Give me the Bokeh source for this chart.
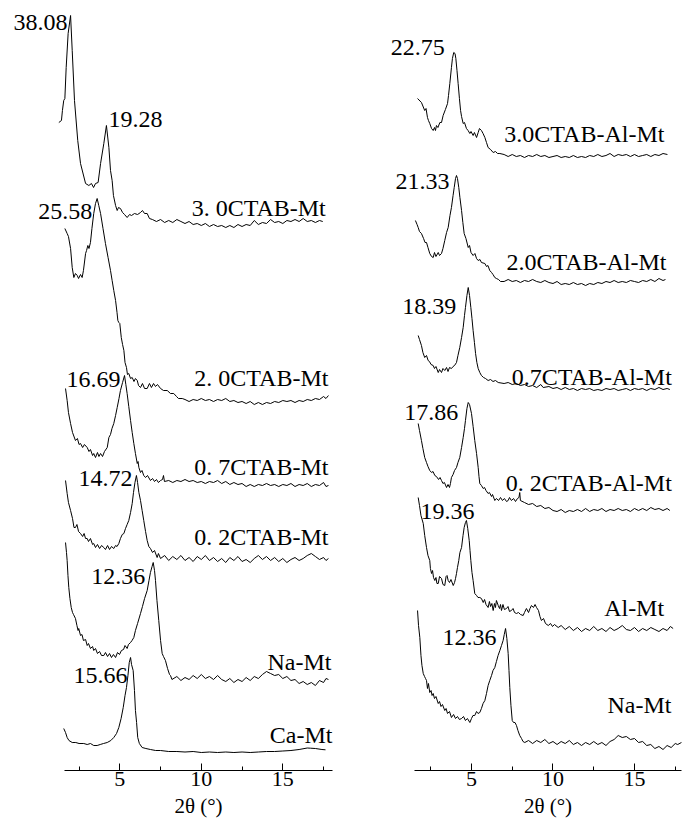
from bokeh.plotting import figure
from bokeh.layouts import row
from bokeh.models import FixedTicker, Range1d, ColumnDataSource
from bokeh.core.properties import value
from bokeh.embed import file_html
from bokeh.resources import INLINE

# ---------------- data: (2theta [deg], stacked intensity [a.u.]) ----------------
A_30CTAB_Mt = [(1.26,648),(1.42,650),(1.48,660),(1.56,670),(1.63,672),(1.71,703),(1.83,737),(1.98,755),(2.08,720),(2.22,670),
    (2.42,630),(2.59,607),(2.90,587),(3.10,585),(3.26,587),(3.39,583),(3.51,587),(3.67,588),(3.82,607),(4.02,627),(4.18,645),
    (4.33,623),(4.43,600),(4.53,590),(4.61,575),(4.74,565),(4.84,560),(4.92,563),(5.04,562),(5.17,558),(5.29,556),(5.45,553),
    (5.60,556),(5.72,555),(5.90,557),(6.09,556),(6.27,558),(6.39,560),(6.52,557),(6.68,557),(6.82,552),(7.00,551),
    (7.25,549),(7.5,551),(7.75,548),(8.0,550),(8.25,548),(8.5,551),(8.75,549),(9.0,547),(9.25,549),(9.5,546),(9.75,547),
    (10.0,545),(10.25,547),(10.5,544),(10.75,546),(11.0,544),(11.25,545),(11.5,543),(11.75,545),(12.0,543),(12.25,546),
    (12.5,544),(12.75,546),(13.0,545),(13.25,550),(13.5,546),(13.75,548),(14.0,547),(14.25,551),(14.5,548),(14.75,549),
    (15.0,547),(15.25,550),(15.5,549),(15.75,551),(16.0,549),(16.25,552),(16.5,549),(16.75,550),(17.0,548),(17.25,550),(17.45,549)]

B_20CTAB_Mt = [(1.63,542),(1.77,537),(1.85,534),(1.98,522),(2.08,503),(2.18,493),(2.28,497),(2.39,495),(2.47,492),(2.59,496),
    (2.69,493),(2.77,500),(2.90,517),(2.96,520),(3.04,525),(3.11,522),(3.20,528),(3.29,542),(3.40,557),(3.51,567),(3.61,572),
    (3.71,565),(3.82,557),(3.97,542),(4.12,527),(4.28,513),(4.43,500),(4.53,490),(4.63,480),(4.74,470),(4.83,458),(4.88,450),
    (4.94,448),(5.00,447),(5.09,433),(5.17,426),(5.25,420),(5.32,408),(5.41,403),(5.47,396),(5.55,397),(5.66,392),(5.76,393),
    (5.87,389),(5.96,392),(6.07,390),(6.15,385),(6.27,383),(6.39,387),(6.52,382),(6.68,382),(6.82,387),(6.94,383),(7.07,387),
    (7.19,384),(7.31,386),(7.50,382),(7.68,380),(7.91,380),(8.11,377),(8.31,377),(8.48,374),(8.60,372),(8.83,372),
    (9.0,371),(9.25,369),(9.5,371),(9.75,370),(10.0,372),(10.25,370),(10.5,371),(10.75,369),(11.0,371),(11.25,370),(11.5,372),
    (11.75,369),(12.0,370),(12.25,368),(12.5,369),(12.75,367),(13.0,369),(13.25,366),(13.5,368),(13.75,366),(14.0,368),
    (14.25,367),(14.5,369),(14.75,368),(15.0,370),(15.25,369),(15.5,370),(15.75,368),(16.0,370),(16.25,369),(16.5,371),
    (16.75,370),(17.0,372),(17.25,371),(17.5,374),(17.65,372),(17.8,375)]

C_07CTAB_Mt = [(1.67,382),(1.77,370),(1.85,358),(1.98,347),(2.10,338),(2.28,330),(2.40,332),(2.50,326),(2.59,327),(2.72,323),
    (2.83,326),(3.00,323),(3.11,319),(3.20,321),(3.33,315),(3.40,317),(3.51,313),(3.63,318),(3.72,314),(3.82,317),(3.94,314),
    (4.06,319),(4.23,323),(4.33,333),(4.43,336),(4.52,342),(4.63,347),(4.74,355),(4.84,363),(4.95,372),(5.04,380),(5.17,388),
    (5.29,395),(5.37,386),(5.45,377),(5.55,364),(5.66,350),(5.76,338),(5.86,327),(5.96,317),(6.07,307),(6.12,309),(6.17,303),
    (6.27,298),(6.36,300),(6.47,295),(6.58,293),(6.70,295),(6.88,290),(7.01,292),(7.13,289),(7.25,291),(7.37,288),(7.50,290),
    (7.62,291),(7.68,295),(7.74,289),
    (8.0,290),(8.25,288),(8.5,290),(8.75,289),(9.0,291),(9.25,289),(9.5,290),(9.75,288),(10.0,289),(10.25,287),(10.5,289),
    (10.75,288),(11.0,290),(11.25,287),(11.5,289),(11.75,286),(12.0,288),(12.25,286),(12.5,287),(12.75,284),(13.0,286),
    (13.25,284),(13.5,286),(13.75,285),(14.0,287),(14.25,285),(14.5,286),(14.75,284),(15.0,286),(15.25,285),(15.5,287),
    (15.75,284),(16.0,286),(16.25,285),(16.5,287),(16.75,284),(17.0,286),(17.25,285),(17.5,288),(17.65,284),(17.8,285)]

D_02CTAB_Mt = [(1.67,290),(1.77,277),(1.85,268),(1.98,260),(2.10,252),(2.19,243),(2.28,243),(2.37,246),(2.47,239),(2.59,237),
    (2.72,234),(2.81,237),(2.90,232),(3.00,232),(3.08,229),(3.20,232),(3.33,226),(3.40,227),(3.51,223),(3.63,226),(3.76,222),
    (3.88,225),(4.02,223),(4.12,221),(4.25,225),(4.37,221),(4.49,224),(4.63,222),(4.74,225),(4.83,224),(4.94,227),(5.04,232),
    (5.15,236),(5.25,237),(5.35,242),(5.45,246),(5.55,250),(5.66,258),(5.76,267),(5.84,278),(5.93,288),(6.02,295),(6.09,288),
    (6.17,278),(6.27,270),(6.37,260),(6.47,250),(6.58,239),(6.68,230),(6.78,224),(6.88,222),(7.01,218),(7.13,220),(7.29,213),
    (7.37,217),(7.50,212),
    (7.75,215),(8.0,210),(8.25,214),(8.5,211),(8.75,215),(9.0,210),(9.25,213),(9.5,209),(9.75,214),(10.0,211),(10.25,215),
    (10.5,210),(10.75,213),(11.0,209),(11.25,212),(11.5,208),(11.75,213),(12.0,210),(12.25,214),(12.5,209),(12.75,211),
    (13.0,208),(13.25,212),(13.5,215),(13.75,211),(14.0,214),(14.25,210),(14.5,213),(14.75,209),(15.0,212),(15.25,208),
    (15.5,211),(15.75,213),(16.0,210),(16.25,212),(16.5,215),(16.75,217),(17.0,214),(17.25,211),(17.5,213),(17.65,210),(17.8,212)]

E_Na_Mt_left = [(1.67,228),(1.73,218),(1.77,210),(1.82,195),(1.87,183),(1.94,172),(2.02,163),(2.10,158),(2.16,156),(2.28,152),
    (2.37,145),(2.44,140),(2.48,142),(2.59,135),(2.68,136),(2.77,130),(2.90,131),(3.00,125),(3.08,127),(3.20,122),(3.33,124),
    (3.40,120),(3.51,122),(3.63,117),(3.76,119),(3.88,115),(4.02,115),(4.12,118),(4.25,114),(4.37,117),(4.49,113),(4.61,116),
    (4.74,113),(4.86,118),(4.98,116),(5.10,120),(5.23,121),(5.32,125),(5.45,122),(5.53,126),(5.66,128),(5.75,130),(5.86,133),
    (5.96,140),(6.09,147),(6.27,157),(6.39,164),(6.52,172),(6.68,180),(6.79,190),(6.88,198),(6.98,204),(7.05,208),(7.13,200),
    (7.19,190),(7.28,170),(7.39,150),(7.50,130),(7.60,117),(7.68,114),(7.80,110),(7.93,102),(8.05,96),(8.11,95),(8.20,91),
    (8.5,94),(8.75,90),(9.0,93),(9.25,91),(9.5,95),(9.75,92),(10.0,96),(10.25,92),(10.5,94),(10.75,91),(11.0,95),(11.25,91),
    (11.5,89),(11.75,92),(12.0,88),(12.25,91),(12.5,89),(12.75,93),(13.0,90),(13.25,94),(13.5,92),(13.75,96),(14.0,99),
    (14.25,97),(14.5,95),(14.75,96),(15.0,92),(15.25,94),(15.5,90),(15.75,91),(16.0,87),(16.25,89),(16.5,86),(16.75,88),
    (17.0,85),(17.25,90),(17.5,88),(17.65,92),(17.8,91)]

F_Ca_Mt = [(1.56,42),(1.67,38),(1.77,33),(1.88,30),(2.08,28),(2.30,28),(2.50,27),(2.79,27),(3.00,26),(3.20,27),(3.40,25),
    (3.61,25),(3.80,26),(4.00,27),(4.23,28),(4.45,30),(4.63,33),(4.80,37),(4.94,43),(5.08,52),(5.21,63),(5.32,75),(5.41,83),
    (5.50,95),(5.58,108),(5.66,113),(5.72,106),(5.82,100),(5.90,80),(5.96,60),(6.03,48),(6.10,33),(6.20,27),(6.37,23),
    (6.60,22),(6.88,21),(7.20,20),(7.50,20),(8.0,19),(8.5,19),(9.0,18.5),(9.5,19),(10.0,18),(10.5,18.5),(11.0,18),(11.5,18.5),
    (12.0,18),(12.5,18.5),(13.0,18),(13.5,18.5),(14.0,19),(14.5,19),(15.0,19.5),(15.5,20),(16.0,21),(16.5,22.5),(16.7,22.3),
    (17.0,22),(17.4,21),(17.62,20.7)]

R1_30CTAB_Al_Mt = [(1.69,672),(1.93,668),(2.13,660),(2.21,662),(2.30,653),(2.36,650),(2.44,647),(2.55,642),(2.65,640),
    (2.73,643),(2.79,640),(2.85,645),(2.94,643),(3.06,648),(3.16,648),(3.26,655),(3.40,661),(3.53,667),(3.59,675),(3.67,687),
    (3.77,703),(3.83,712),(3.91,718),(3.99,717),(4.04,712),(4.11,700),(4.18,687),(4.26,672),(4.33,660),(4.39,654),(4.49,647),
    (4.57,648),(4.69,642),(4.79,640),(4.90,637),(4.97,639),(5.10,635),(5.18,638),(5.31,633),(5.41,638),(5.49,642),(5.61,640),
    (5.71,637),(5.82,633),(5.92,628),(6.02,623),(6.17,621),(6.33,618),(6.47,619),(6.60,617),(6.74,617),
    (7.0,616),(7.25,614),(7.5,616),(7.75,614),(8.0,615),(8.25,613),(8.5,615),(8.75,614),(9.0,616),(9.25,614),(9.5,615),
    (9.75,613),(10.0,614),(10.25,615),(10.5,613),(10.75,614),(11.0,613),(11.25,615),(11.5,613),(11.75,614),(12.0,613),
    (12.25,615),(12.5,614),(12.75,616),(13.0,614),(13.25,615),(13.5,617),(13.75,614),(14.0,616),(14.25,615),(14.5,616),
    (14.75,614),(15.0,616),(15.25,614),(15.5,615),(15.75,616),(16.0,614),(16.25,616),(16.5,615),(16.75,617),(17.02,616)]

R2_20CTAB_Al_Mt = [(1.56,550),(1.66,546),(1.73,543),(1.81,539),(1.93,537),(2.06,532),(2.15,528),(2.24,528),(2.33,523),
    (2.44,517),(2.55,514),(2.65,513),(2.73,518),(2.82,514),(2.96,518),(3.04,515),(3.16,517),(3.25,522),(3.36,530),(3.47,538),
    (3.57,543),(3.68,555),(3.77,563),(3.87,575),(3.94,583),(4.02,592),(4.08,595),(4.14,592),(4.22,583),(4.29,573),(4.39,560),
    (4.47,548),(4.55,537),(4.66,532),(4.80,523),(4.88,525),(4.97,518),(5.10,515),(5.21,517),(5.31,512),(5.41,510),(5.52,511),
    (5.61,508),(5.82,507),(5.92,504),(6.01,505),(6.12,500),(6.23,498),(6.32,496),(6.43,493),(6.53,492),(6.66,491),(6.78,489),
    (7.0,489),(7.25,491),(7.5,489),(7.75,490),(8.0,488),(8.25,490),(8.5,489),(8.75,491),(9.0,489),(9.25,488),(9.5,490),
    (9.75,488),(10.0,487),(10.25,489),(10.5,486),(10.75,487),(11.0,486),(11.25,488),(11.5,486),(11.75,487),(12.0,485),
    (12.25,487),(12.5,486),(12.75,488),(13.0,487),(13.25,489),(13.5,488),(13.75,490),(14.0,488),(14.25,489),(14.5,488),
    (14.75,490),(15.0,489),(15.25,488),(15.5,490),(15.75,489),(16.0,491),(16.25,489),(16.5,492),(16.75,490),(16.9,491)]

R3_07CTAB_Al_Mt = [(1.73,435),(1.81,431),(1.93,425),(2.02,418),(2.13,413),(2.24,415),(2.34,410),(2.42,409),(2.52,406),
    (2.65,405),(2.73,402),(2.82,404),(2.96,398),(3.04,401),(3.16,398),(3.25,402),(3.36,400),(3.47,403),(3.56,399),(3.65,403),
    (3.77,402),(3.87,404),(3.96,405),(4.08,408),(4.17,415),(4.28,423),(4.39,433),(4.49,443),(4.57,455),(4.63,463),(4.72,475),
    (4.80,483),(4.88,475),(4.96,463),(5.03,452),(5.10,440),(5.18,428),(5.25,417),(5.33,408),(5.41,402),(5.51,398),(5.61,395),
    (5.74,393),(5.86,392),(6.02,390),(6.17,391),(6.32,389),(6.47,390),(6.64,388),
    (7.0,387),(7.25,388),(7.5,386),(7.75,387),(8.0,385),(8.25,386),(8.5,384),(8.75,385),(9.0,383),(9.25,386),(9.4,383),
    (9.75,384),(10.0,382),(10.25,383),(10.5,381),(10.75,383),(11.0,381),(11.25,382),(11.5,380),(11.75,382),(12.0,381),
    (12.25,382),(12.5,380),(12.75,381),(13.0,380),(13.25,382),(13.5,381),(13.75,382),(14.0,380),(14.25,381),(14.5,382),
    (14.75,380),(15.0,382),(15.25,381),(15.5,382),(15.75,380),(16.0,382),(16.25,381),(16.5,383),(16.75,381),(17.0,382),(17.17,381)]

R4_02CTAB_Al_Mt = [(1.73,347),(1.81,340),(1.93,330),(2.02,322),(2.13,313),(2.24,308),(2.33,304),(2.44,300),(2.55,298),
    (2.64,299),(2.75,295),(2.85,294),(2.98,291),(3.07,293),(3.16,290),(3.25,287),(3.34,288),(3.47,283),(3.56,286),(3.65,283),
    (3.71,287),(3.77,293),(3.87,296),(3.96,300),(4.08,303),(4.17,308),(4.28,313),(4.39,323),(4.49,333),(4.57,342),(4.63,350),
    (4.72,362),(4.80,368),(4.88,366),(5.00,357),(5.10,344),(5.20,330),(5.31,317),(5.41,303),(5.46,294),(5.51,287),(5.61,285),
    (5.72,282),(5.80,283),(5.89,280),(6.02,277),(6.10,278),(6.23,274),(6.29,276),(6.43,270),(6.53,272),(6.66,270),(6.78,273),
    (6.90,270),(7.02,272),(7.15,269),(7.25,270),(7.33,273),(7.45,270),(7.58,272),(7.70,269),(7.82,272),(7.91,273),(7.96,278),
    (8.0,270),
    (8.25,268),(8.5,266),(8.75,267),(9.0,264),(9.25,265),(9.5,262),(9.75,263),(10.0,260),(10.25,259),(10.5,261),(10.75,258),
    (11.0,260),(11.25,259),(11.5,261),(11.75,259),(12.0,262),(12.25,259),(12.5,261),(12.75,260),(13.0,262),(13.25,259),
    (13.5,261),(13.75,260),(14.0,262),(14.25,260),(14.5,261),(14.75,259),(15.0,262),(15.25,260),(15.5,262),(15.75,260),
    (16.0,263),(16.25,261),(16.5,262),(16.75,260),(17.0,262),(17.17,260)]

R5_Al_Mt = [(1.73,273),(1.81,265),(1.90,255),(2.04,247),(2.13,235),(2.24,223),(2.33,215),(2.44,210),(2.48,202),(2.55,197),
    (2.61,200),(2.67,193),(2.75,190),(2.82,193),(2.88,187),(2.96,187),(3.04,194),(3.16,192),(3.25,186),(3.36,185),(3.44,194),
    (3.50,195),(3.57,190),(3.65,188),(3.74,191),(3.88,185),(3.96,188),(4.02,192),(4.08,197),(4.14,203),(4.22,210),(4.29,218),
    (4.39,223),(4.48,235),(4.55,243),(4.63,248),(4.69,250),(4.77,242),(4.86,230),(4.91,220),(4.96,210),(5.03,198),(5.10,190),
    (5.20,177),(5.31,175),(5.40,173),(5.51,173),(5.61,172),(5.72,168),(5.80,171),(5.89,166),(6.02,163),(6.10,169),(6.17,164),
    (6.25,167),(6.33,160),(6.41,167),(6.47,163),(6.53,170),(6.64,165),(6.72,162),(6.78,166),(6.84,160),(6.93,166),(7.02,161),
    (7.15,162),(7.24,164),(7.33,159),(7.45,160),(7.55,162),(7.64,158),(7.76,157),(7.88,158),(8.01,156),(8.17,155),(8.25,158),
    (8.37,162),(8.50,158),(8.59,162),(8.68,165),(8.80,163),(8.90,166),(8.99,163),(9.11,160),(9.20,154),(9.29,150),(9.42,152),
    (9.54,147),(9.71,145),(9.85,147),(9.97,144),(10.09,146),(10.32,143),
    (10.5,145),(10.75,141),(11.0,144),(11.25,140),(11.5,143),(11.75,139),(12.0,142),(12.25,140),(12.5,144),(12.75,140),
    (13.0,142),(13.25,139),(13.5,143),(13.75,140),(14.0,142),(14.25,145),(14.5,141),(14.75,140),(15.0,143),(15.25,139),
    (15.5,142),(15.75,140),(16.0,143),(16.25,141),(16.5,139),(16.75,142),(17.0,140),(17.2,144),(17.37,142)]

R6_Na_Mt_right = [(1.69,160),(1.75,145),(1.83,133),(1.90,115),(1.96,105),(2.04,97),(2.12,94),(2.18,92),(2.24,90),(2.30,82),
    (2.36,87),(2.44,78),(2.52,80),(2.58,75),(2.65,77),(2.73,72),(2.82,74),(2.96,67),(3.04,69),(3.13,64),(3.22,66),(3.36,60),
    (3.44,62),(3.53,57),(3.65,59),(3.77,53),(3.90,56),(4.02,52),(4.14,54),(4.26,51),(4.39,52),(4.51,54),(4.63,50),(4.75,52),
    (4.90,48),(5.00,52),(5.09,55),(5.20,55),(5.31,59),(5.40,57),(5.51,58),(5.61,62),(5.71,67),(5.82,70),(5.92,77),(6.02,85),
    (6.12,90),(6.23,95),(6.32,100),(6.43,103),(6.53,109),(6.63,115),(6.74,120),(6.84,125),(6.94,130),(7.01,136),(7.09,142),
    (7.17,132),(7.25,117),(7.30,100),(7.35,83),(7.42,65),(7.50,50),(7.58,48),(7.67,48),(7.76,45),(7.85,40),(7.96,35),
    (8.07,32),(8.16,29),(8.27,28),
    (8.5,30),(8.75,27),(9.0,30),(9.25,28),(9.5,31),(9.75,27),(10.0,29),(10.25,26),(10.5,29),(10.75,27),(11.0,30),(11.25,26),
    (11.5,28),(11.75,25),(12.0,28),(12.25,26),(12.5,29),(12.75,26),(13.0,28),(13.25,25),(13.5,29),(13.75,31),(14.0,35),
    (14.25,33),(14.5,34),(14.75,31),(15.0,32),(15.25,28),(15.5,29),(15.75,25),(16.0,26),(16.25,22),(16.5,24),(16.75,21),
    (17.0,25),(17.25,23),(17.5,27),(17.65,26),(17.88,28)]

left_names = ["3. 0CTAB-Mt", "2. 0CTAB-Mt", "0. 7CTAB-Mt", "0. 2CTAB-Mt", "Na-Mt", "Ca-Mt"]
left_d = [["38.08", "19.28"], ["25.58"], ["16.69"], ["14.72"], ["12.36"], ["15.66"]]
right_names = ["3.0CTAB-Al-Mt", "2.0CTAB-Al-Mt", "0.7CTAB-Al-Mt", "0. 2CTAB-Al-Mt", "Al-Mt", "Na-Mt"]
right_d = [["22.75"], ["21.33"], ["18.39"], ["17.86"], ["19.36"], ["12.36"]]
x_ticks = [5, 10, 15]
x_minor_ticks = [2.5, 7.5, 12.5, 17.5]
x_label = "2θ (°)"

# ---------------- layout (screen offsets) ----------------
# peak label: (search window lo, hi, align, dx, dy)
left_peak_layout = [[(1.5, 2.5, "right", -3, 7), (3.8, 4.6, "left", 2, -6)], [(3.0, 4.2, "right", -5, 13)],
                    [(5.0, 6.0, "right", -4, 4)], [(5.5, 6.5, "right", -4, 3)], [(6.5, 7.5, "right", -8, 14)],
                    [(5.0, 6.5, "right", -3, 18)]]
right_peak_layout = [[(3.5, 4.5, "right", -9, -5)], [(3.5, 4.5, "right", -7, 6)], [(4.3, 5.3, "right", -12, 19)],
                     [(4.3, 5.3, "right", -10, 10)], [(4.3, 5.3, "right", 8, -9)], [(6.5, 7.5, "right", -9, 9)]]
left_name_layout = [(3, -14), (0, -18), (0, -19), (0, -22), (3, -18), (7, -15)]
right_name_layout = [(-3, -21), (1, -18), (2, -13), (2, -28), (-9, -21), (-10, -38)]

FONT = "Liberation Serif"
LABEL_SIZE = "24px"
TICK_SIZE = "22px"
AXIS_LABEL_SIZE = "21px"


def make_panel(curves, names, dlabels, peak_layout, name_layout, x_start, x_end, bounds):
    # frame covers the whole canvas; the x axis is pinned at intensity 0 (49 px above the bottom)
    p = figure(frame_width=341, frame_height=819, x_range=Range1d(x_start, x_end), y_range=Range1d(-49, 770),
               output_backend="svg", toolbar_location=None, y_axis_location=None,
               min_border_left=0, min_border_right=0, min_border_top=0, min_border_bottom=0)
    p.outline_line_color = None
    p.xgrid.visible = False
    p.ygrid.visible = False
    p.background_fill_color = "white"
    p.border_fill_color = "white"
    ax = p.xaxis[0]
    ax.fixed_location = 0
    ax.ticker = FixedTicker(ticks=x_ticks, minor_ticks=x_minor_ticks)
    ax.bounds = bounds
    ax.axis_line_color = "black"
    ax.axis_line_width = 1
    ax.major_tick_in = 7
    ax.major_tick_out = 0
    ax.minor_tick_in = 4
    ax.minor_tick_out = 0
    ax.major_tick_line_color = "black"
    ax.minor_tick_line_color = "black"
    ax.major_label_text_font = FONT
    ax.major_label_text_font_size = TICK_SIZE
    ax.major_label_text_color = "black"
    ax.major_label_standoff = 1
    ax.axis_label = x_label
    ax.axis_label_text_font = FONT
    ax.axis_label_text_font_size = AXIS_LABEL_SIZE
    ax.axis_label_text_font_style = "normal"
    ax.axis_label_text_color = "black"
    ax.axis_label_standoff = 5

    px, py, pt, pa, pdx, pdy = [], [], [], [], [], []
    nx, ny, nt, ndx, ndy = [], [], [], [], []
    for curve, name, dl, pl, nl in zip(curves, names, dlabels, peak_layout, name_layout):
        xs = [c[0] for c in curve]
        ys = [c[1] for c in curve]
        p.line(xs, ys, line_color="black", line_width=1)
        for txt, (lo, hi, align, dx, dy) in zip(dl, pl):
            cand = [(y, x) for x, y in curve if lo <= x <= hi]
            ymax, xmax = max(cand)
            px.append(xmax); py.append(ymax); pt.append(txt); pa.append(align); pdx.append(dx); pdy.append(dy)
        nx.append(xs[-1]); ny.append(ys[-1]); nt.append(name); ndx.append(nl[0]); ndy.append(nl[1])

    for align in ("left", "right"):
        idx = [i for i, a in enumerate(pa) if a == align]
        if not idx:
            continue
        src = ColumnDataSource(dict(x=[px[i] for i in idx], y=[py[i] for i in idx], t=[pt[i] for i in idx],
                                    dx=[pdx[i] for i in idx], dy=[pdy[i] for i in idx]))
        p.text(x="x", y="y", text="t", x_offset="dx", y_offset="dy", source=src, text_align=align,
               text_baseline="middle", text_font=value(FONT), text_font_size=LABEL_SIZE, text_color="black")
    nsrc = ColumnDataSource(dict(x=nx, y=ny, t=nt, dx=ndx, dy=ndy))
    p.text(x="x", y="y", text="t", x_offset="dx", y_offset="dy", source=nsrc, text_align="right",
           text_baseline="middle", text_font=value(FONT), text_font_size=LABEL_SIZE, text_color="black")
    return p


left = make_panel([A_30CTAB_Mt, B_20CTAB_Mt, C_07CTAB_Mt, D_02CTAB_Mt, E_Na_Mt_left, F_Ca_Mt],
                  left_names, left_d, left_peak_layout, left_name_layout, -2.319, 18.601, (1.63, 18.07))
right = make_panel([R1_30CTAB_Al_Mt, R2_20CTAB_Al_Mt, R3_07CTAB_Al_Mt, R4_02CTAB_Al_Mt, R5_Al_Mt, R6_Na_Mt_right],
                   right_names, right_d, right_peak_layout, right_name_layout, -2.975, 17.945, (1.5, 17.9))

layout = row(left, right, spacing=0)
open("out.html", "w").write(file_html(layout, INLINE))
